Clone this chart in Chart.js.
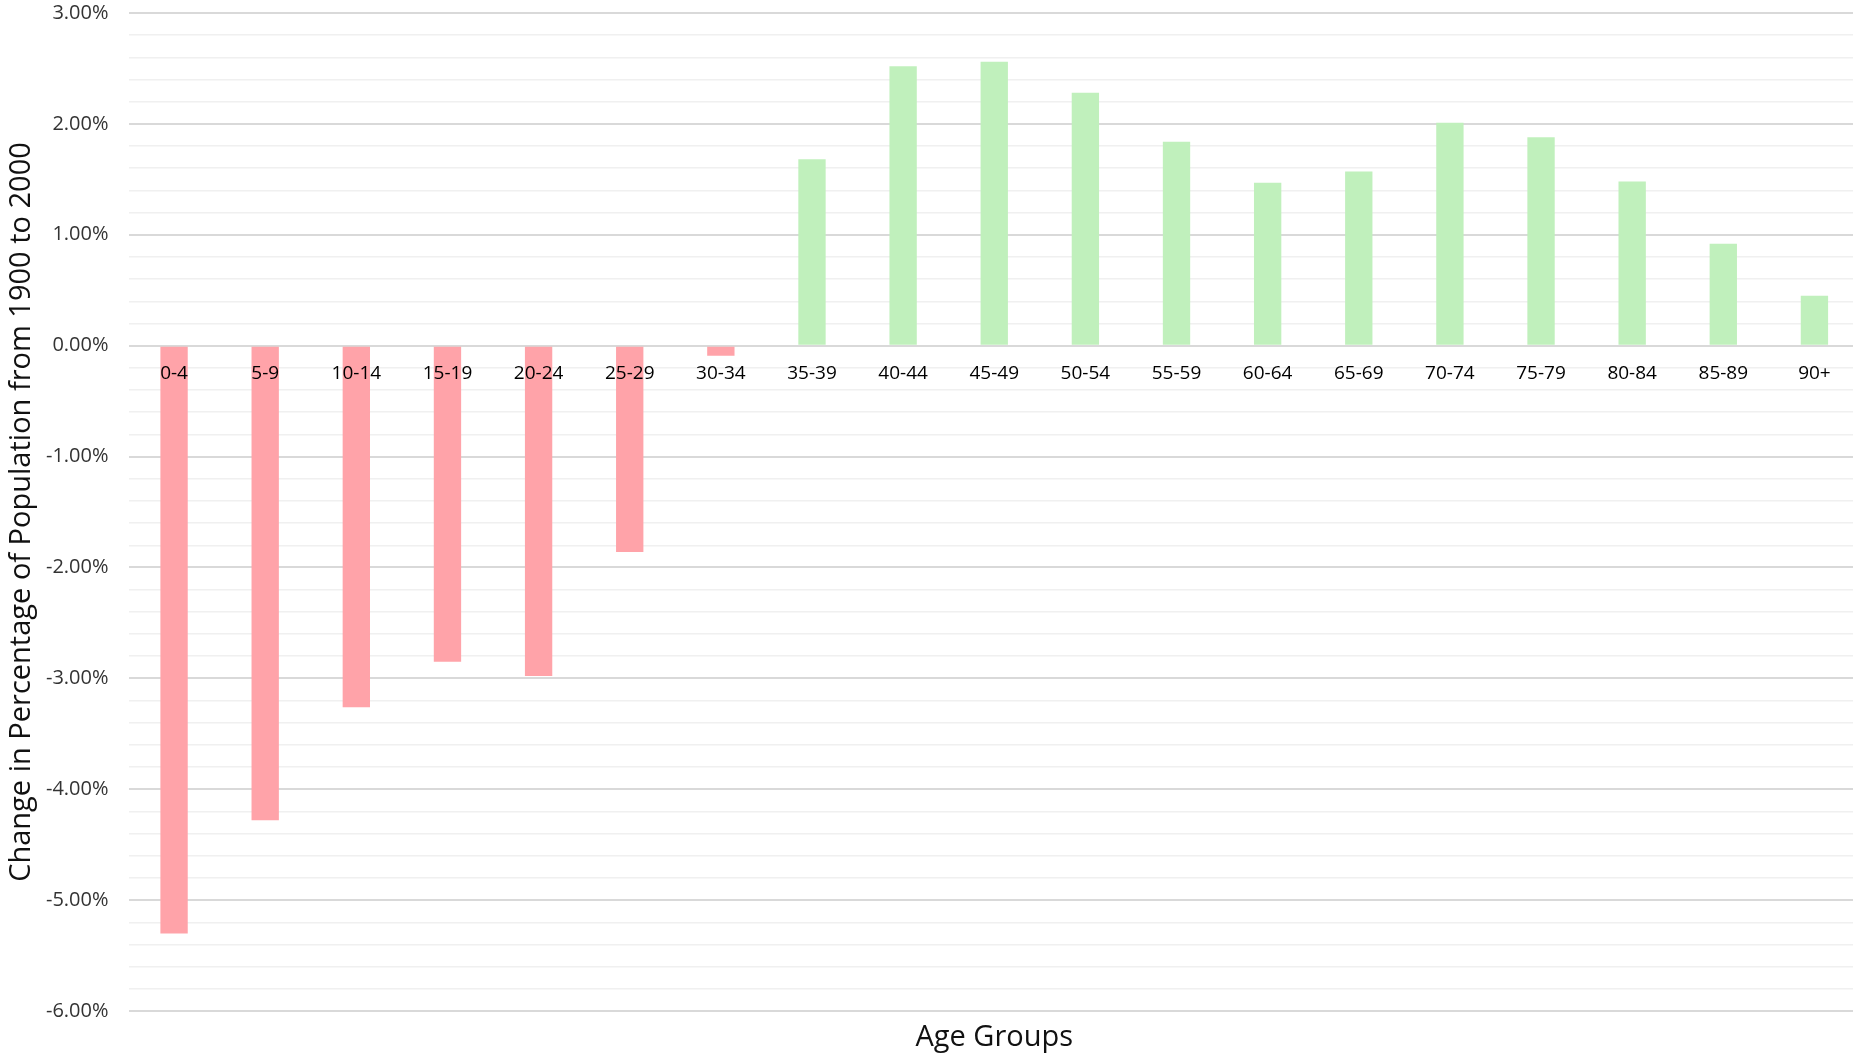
<!DOCTYPE html>
<html>
<head>
<meta charset="utf-8">
<title>Change in Percentage of Population by Age Group, 1900 to 2000</title>
<script src="https://cdn.jsdelivr.net/npm/chart.js@4.4.1/dist/chart.umd.min.js"></script>
<style>
  html, body { margin: 0; padding: 0; background: #ffffff; overflow: hidden; }
  #wrap { position: relative; width: 1860px; height: 1055px; }
</style>
</head>
<body>
<div id="wrap"><canvas id="chart"></canvas></div>
<script>
// Age groups along the horizontal axis
const ageGroups = ['0-4', '5-9', '10-14', '15-19', '20-24', '25-29', '30-34', '35-39', '40-44',
  '45-49', '50-54', '55-59', '60-64', '65-69', '70-74', '75-79', '80-84', '85-89', '90+'];

// Change in share of total population (percentage points), 1900 -> 2000
const changePct = [-5.30, -4.28, -3.26, -2.85, -2.98, -1.86, -0.09, 1.68, 2.52,
  2.56, 2.28, 1.84, 1.47, 1.57, 2.01, 1.88, 1.48, 0.92, 0.45];

// Value axis range and spacing
const yMin = -6;
const yMax = 3;
const yStep = 0.2;

const negColor = '#ffa3a9';
const posColor = '#c0f0bc';

const isMajor = v => Math.abs(v - Math.round(v)) < 1e-6;

new Chart(document.getElementById('chart'), {
  type: 'bar',
  data: {
    labels: ageGroups,
    datasets: [{
      label: 'Change in Percentage of Population',
      data: changePct,
      xAxisID: 'x',
      backgroundColor: ctx => (ctx.raw < 0 ? negColor : posColor),
      borderWidth: 0,
      categoryPercentage: 1.0,
      barPercentage: 0.3
    }]
  },
  options: {
    responsive: true,
    maintainAspectRatio: false,
    animation: false,
    layout: { padding: { top: 13, left: 0, right: 0, bottom: 0 } },
    plugins: {
      legend: { display: false },
      tooltip: { enabled: false }
    },
    scales: {
      x: {
        type: 'category',
        position: 'bottom',
        grid: { display: false, drawTicks: false },
        border: { display: false },
        ticks: { display: false },
        title: {
          display: true,
          text: 'Age Groups',
          color: '#111111',
          font: { family: 'Open Sans', size: 29 },
          padding: { top: 0, bottom: 0 }
        },
        afterFit: s => { s.height = 44; }
      },
      // category labels sit just under the zero line, drawn over the bars
      x2: {
        type: 'category',
        position: { y: 0 },
        grid: { display: false, drawTicks: false },
        border: { display: false },
        ticks: {
          z: 1,
          color: '#000000',
          font: { family: 'Open Sans', size: 19 },
          padding: 17,
          autoSkip: false,
          maxRotation: 0
        },
        afterFit: s => { s.height = 0; }
      },
      y: {
        type: 'linear',
        min: yMin,
        max: yMax,
        grid: {
          drawTicks: true,
          tickLength: 20,
          tickColor: 'rgba(0,0,0,0)',
          color: ctx => (isMajor(ctx.tick.value) ? '#d9d9d9' : '#f0f0f0'),
          lineWidth: ctx => (isMajor(ctx.tick.value) ? 2 : 1.5)
        },
        border: { display: false },
        ticks: {
          stepSize: yStep,
          autoSkip: false,
          padding: 0,
          color: '#333333',
          font: { family: 'Open Sans', size: 20 },
          callback: v => (isMajor(v) ? Math.round(v).toFixed(2) + '%' : '')
        },
        title: {
          display: true,
          text: 'Change in Percentage of Population from 1900 to 2000',
          color: '#111111',
          font: { family: 'Open Sans', size: 29 },
          padding: { top: 4, bottom: 0 }
        },
        afterFit: s => { s.width = 128.5; }
      }
    }
  }
});
</script>
</body>
</html>
